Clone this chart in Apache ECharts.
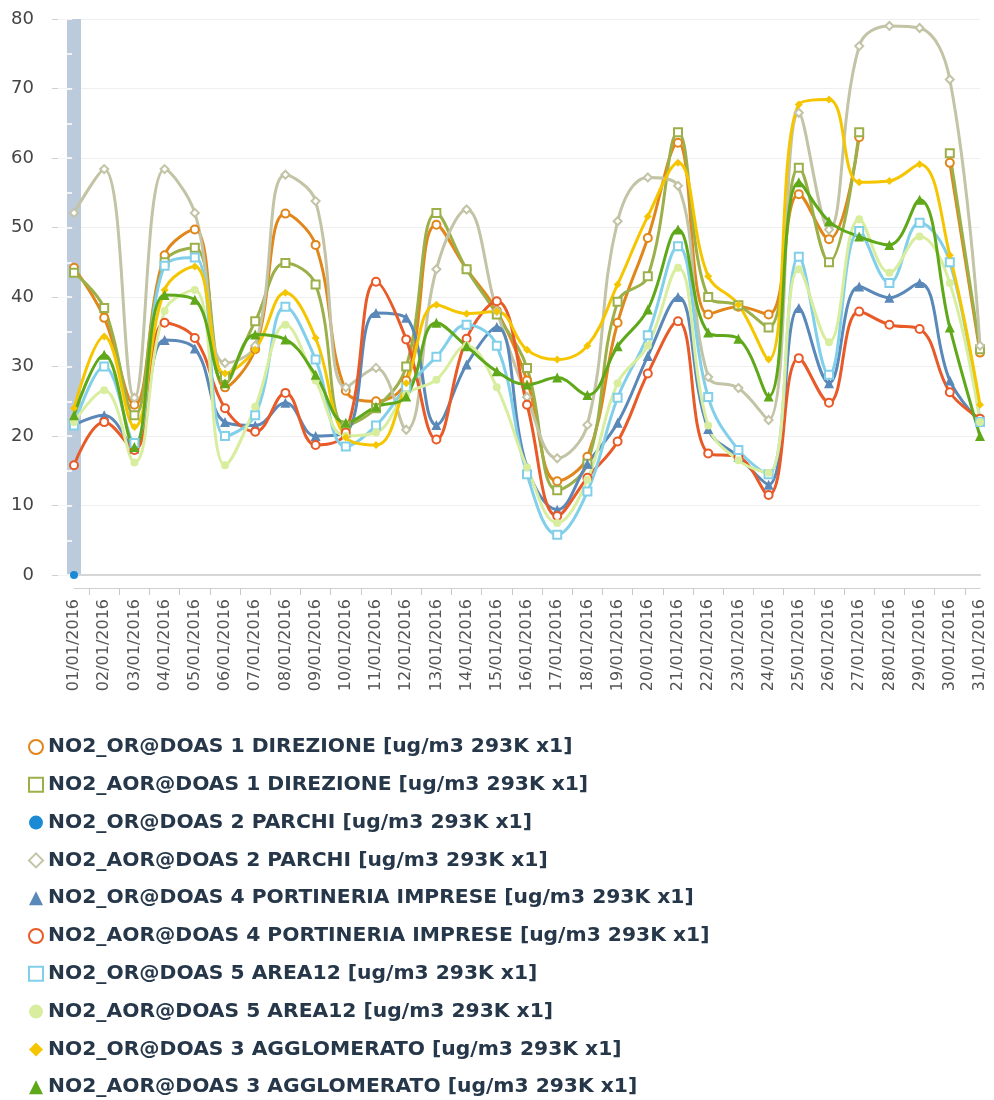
<!DOCTYPE html>
<html>
<head>
<meta charset="utf-8">
<script src="https://cdn.jsdelivr.net/npm/echarts@6/dist/echarts.min.js"></script>
<style>
html,body{margin:0;padding:0;background:#fff;}
#chart{width:994px;height:1100px;}
</style>
</head>
<body>
<div id="chart"></div>
<script>
var categories = ['01/01/2016','02/01/2016','03/01/2016','04/01/2016','05/01/2016','06/01/2016','07/01/2016','08/01/2016','09/01/2016','10/01/2016','11/01/2016','12/01/2016','13/01/2016','14/01/2016','15/01/2016','16/01/2016','17/01/2016','18/01/2016','19/01/2016','20/01/2016','21/01/2016','22/01/2016','23/01/2016','24/01/2016','25/01/2016','26/01/2016','27/01/2016','28/01/2016','29/01/2016','30/01/2016','31/01/2016'];

var seriesNames = [
  'NO2_OR@DOAS 1 DIREZIONE [ug/m3 293K x1]',
  'NO2_AOR@DOAS 1 DIREZIONE [ug/m3 293K x1]',
  'NO2_OR@DOAS 2 PARCHI [ug/m3 293K x1]',
  'NO2_AOR@DOAS 2 PARCHI [ug/m3 293K x1]',
  'NO2_OR@DOAS 4 PORTINERIA IMPRESE [ug/m3 293K x1]',
  'NO2_AOR@DOAS 4 PORTINERIA IMPRESE [ug/m3 293K x1]',
  'NO2_OR@DOAS 5 AREA12 [ug/m3 293K x1]',
  'NO2_AOR@DOAS 5 AREA12 [ug/m3 293K x1]',
  'NO2_OR@DOAS 3 AGGLOMERATO [ug/m3 293K x1]',
  'NO2_AOR@DOAS 3 AGGLOMERATO [ug/m3 293K x1]'
];

var or1Direzione  = [44.2,37,24.5,46,49.7,27,32.5,52,47.5,26.5,25,28,50.4,44,38,28,13.5,17,36.3,48.5,62.2,37.5,38.6,37.5,54.8,48.3,63,null,null,59.3,32];
var aor1Direzione = [43.5,38.4,23,45,47.1,28.5,36.5,44.9,41.8,21.5,24,30,52.1,44,37.5,29.8,12.2,16,39.3,43,63.7,40,38.8,35.6,58.6,45,63.7,null,null,60.7,32.5];
var or2Parchi     = [0,null,null,null,null,null,null,null,null,null,null,null,null,null,null,null,null,null,null,null,null,null,null,null,null,null,null,null,null,null,null];
var aor2Parchi    = [52.1,58.4,25.5,58.4,52.1,30.5,33,57.6,53.8,27,29.8,20.9,44,52.6,38,25.6,16.8,21.6,50.9,57.2,56,28.5,26.9,22.3,66.5,49.7,76.1,79,78.7,71.3,33];
var or4Portineria = [21.6,23,18.2,33.8,32.6,22,21.5,24.8,20,20.5,37.7,37,21.6,30.3,35.7,15.5,9.4,16,21.9,31.5,40,21,17,13,38.4,27.6,41.5,39.9,42,28,22];
var aor4Portineria= [15.8,22,18,36.3,34.1,24,20.6,26.2,18.7,20.5,42.2,33.9,19.5,34,39.4,24.5,8.5,14,19.2,29,36.5,17.5,17,11.5,31.2,24.8,37.9,36,35.4,26.3,22.5];
var or5Area12     = [21.5,30,19,44.5,45.7,20,23,38.6,31,18.5,21.5,27,31.4,36,33,14.5,5.8,12,25.5,34.5,47.3,25.6,18,14.5,45.8,28.8,49.5,42,50.7,45,22];
var aor5Area12    = [22,26.6,16.2,38,41,15.8,24.2,36,28,20,20.5,26,28.1,33,27,15.5,7.5,13.7,27.6,33,44.2,21.5,16.5,14.7,44,33.5,51.2,43.5,48.7,42,22];
var or3Agglom     = [24,34.3,21.3,41,44.4,29,32.4,40.6,34.1,19.8,18.7,27.6,38.9,37.6,37.9,32.4,31,33,41.8,51.6,59.3,43,38.9,31,67.7,68.4,56.5,56.7,59.1,46,24.5];
var aor3Agglom    = [23,31.7,18.4,40.3,39.6,27.6,34.6,33.9,28.8,21.9,24.2,25.7,36.3,32.9,29.3,27.4,28.4,25.9,32.9,38.2,49.7,34.9,34,25.7,56.5,50.9,48.7,47.5,54,35.6,20];

var seriesData = [or1Direzione, aor1Direzione, or2Parchi, aor2Parchi, or4Portineria, aor4Portineria, or5Area12, aor5Area12, or3Agglom, aor3Agglom];
var seriesColors = ['#e0861a','#9cb04a','#1a8ad4','#c3c3a6','#5a88b8','#e85a28','#82cfea','#d8ee9e','#f5c600','#5ea81a'];
var seriesSymbols = ['emptyCircle','emptyRect','circle','emptyDiamond','triangle','emptyCircle','emptyRect','circle','diamond','triangle'];

var yTicks = [0,10,20,30,40,50,60,70,80];

var series = seriesNames.map(function(name, i){
  return {
    name: name,
    type: 'line',
    xAxisIndex: 0,
    yAxisIndex: 0,
    data: seriesData[i],
    smooth: 0.4,
    connectNulls: false,
    symbol: seriesSymbols[i],
    symbolSize: seriesSymbols[i].indexOf('triangle') >= 0 ? 10 : 8,
    showAllSymbol: true,
    lineStyle: {color: seriesColors[i], width: 3},
    itemStyle: {color: seriesColors[i], borderWidth: 2},
    emphasis: {disabled: true}
  };
});

var chart = echarts.init(document.getElementById('chart'), null, {renderer: 'canvas'});
chart.setOption({
  animation: false,
  backgroundColor: '#ffffff',
  grid: {left: 74, right: 14, top: 19, bottom: 525, containLabel: false},
  xAxis: [{
    type: 'category',
    data: categories,
    boundaryGap: false,
    position: 'bottom',
    axisLine: {show: true, lineStyle: {color: '#d6d6d6', width: 2}},
    axisTick: {show: false},
    axisLabel: {
      interval: 0, rotate: 90, margin: 24,
      fontFamily: 'DejaVu Sans', fontSize: 16, color: '#555555'
    },
    splitLine: {show: false}
  }, {
    type: 'value',
    min: 0, max: 30, interval: 1,
    position: 'bottom',
    offset: 13,
    axisLine: {show: true, onZero: false, lineStyle: {color: '#d0d0d0', width: 1}},
    axisTick: {show: false},
    minorTick: {show: true, splitNumber: 2, length: 7, lineStyle: {color: '#c8c8c8', width: 1}},
    axisLabel: {show: false},
    splitLine: {show: false},
    minorSplitLine: {show: false}
  }],
  yAxis: [{
    type: 'value',
    min: yTicks[0], max: yTicks[yTicks.length-1], interval: 10,
    position: 'left',
    offset: 9,
    axisLine: {show: true, lineStyle: {color: '#bccbdc', width: 14, cap: 'butt'}},
    axisTick: {show: true, length: 22, lineStyle: {color: '#d0d0d0', width: 1}},
    axisLabel: {margin: 31, fontFamily: 'DejaVu Sans', fontSize: 18, color: '#444444'},
    splitLine: {show: true, lineStyle: {color: '#efefef', width: 1}}
  }, {
    type: 'value',
    min: 0, max: 80, interval: 5,
    position: 'left',
    offset: 16,
    z: 1,
    axisLine: {show: false},
    axisTick: {show: true, inside: true, length: 14, lineStyle: {color: '#ffffff', width: 1.5}},
    axisLabel: {show: false},
    splitLine: {show: false}
  }],
  legend: {
    orient: 'vertical',
    left: 23,
    top: 732,
    height: 380,
    itemWidth: 14,
    itemHeight: 14,
    itemGap: 17.8,
    selectedMode: false,
    textStyle: {fontFamily: 'DejaVu Sans', fontWeight: 'bold', fontSize: 20.3, lineHeight: 20, color: '#26374a'},
    data: seriesNames.map(function(n, i){ return {name: n, icon: seriesSymbols[i]}; })
  },
  series: series
});
</script>
</body>
</html>
